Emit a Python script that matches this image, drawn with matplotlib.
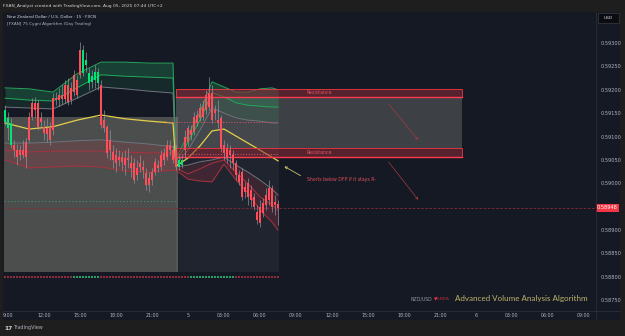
import numpy as np
import matplotlib
matplotlib.use("Agg")
import matplotlib.pyplot as plt
from matplotlib.patches import Rectangle
from matplotlib.lines import Line2D
import matplotlib.transforms as mtransforms

# ---------------- data ----------------
# 15-minute bars, hours counted from Aug 4 00:00 (UTC+2); first bar 08:45
bar_hours = 8.75 + 0.25 * np.arange(92)

opens = [0.59131, 0.59140, 0.59129, 0.59082, 0.59071, 0.59061, 0.59071, 0.59088, 0.59093, 0.59142,
         0.59172, 0.59172, 0.59131, 0.59121, 0.59118, 0.59121, 0.59114, 0.59182, 0.59178, 0.59189,
         0.59180, 0.59210, 0.59178, 0.59195, 0.59221, 0.59232, 0.59236, 0.59264, 0.59236, 0.59229,
         0.59238, 0.59214, 0.59210, 0.59135, 0.59121, 0.59093, 0.59067, 0.59061, 0.59050, 0.59056,
         0.59054, 0.59050, 0.59043, 0.59043, 0.59018, 0.59043, 0.59035, 0.59022, 0.59011, 0.59007,
         0.59024, 0.59039, 0.59035, 0.59050, 0.59056, 0.59082, 0.59071, 0.59071, 0.59035, 0.59050,
         0.59071, 0.59088, 0.59103, 0.59110, 0.59129, 0.59140, 0.59142, 0.59157, 0.59163, 0.59193,
         0.59157, 0.59135, 0.59140, 0.59082, 0.59076, 0.59071, 0.59061, 0.59043, 0.59018, 0.59024,
         0.58992, 0.59001, 0.58986, 0.58971, 0.58939, 0.58949, 0.58958, 0.58975, 0.58990, 0.58990,
         0.58960, 0.58956]
closes = [0.59157, 0.59118, 0.59082, 0.59071, 0.59056, 0.59071, 0.59061, 0.59056, 0.59142, 0.59172,
          0.59157, 0.59121, 0.59140, 0.59108, 0.59105, 0.59093, 0.59182, 0.59178, 0.59189, 0.59180,
          0.59210, 0.59174, 0.59204, 0.59232, 0.59189, 0.59285, 0.59285, 0.59253, 0.59214, 0.59217,
          0.59221, 0.59238, 0.59125, 0.59118, 0.59065, 0.59071, 0.59050, 0.59043, 0.59056, 0.59046,
          0.59039, 0.59054, 0.59033, 0.59007, 0.59033, 0.59035, 0.59028, 0.58996, 0.58996, 0.59024,
          0.59046, 0.59033, 0.59061, 0.59065, 0.59082, 0.59071, 0.59050, 0.59035, 0.59050, 0.59039,
          0.59099, 0.59118, 0.59114, 0.59142, 0.59146, 0.59161, 0.59163, 0.59189, 0.59193, 0.59135,
          0.59150, 0.59129, 0.59076, 0.59065, 0.59056, 0.59061, 0.59043, 0.59018, 0.59003, 0.58971,
          0.58981, 0.58971, 0.58964, 0.58949, 0.58922, 0.58915, 0.58937, 0.58954, 0.58964, 0.58949,
          0.58954, 0.58948]
highs = [0.59167, 0.59152, 0.59140, 0.59093, 0.59084, 0.59082, 0.59093, 0.59097, 0.59152, 0.59182,
         0.59185, 0.59178, 0.59152, 0.59135, 0.59140, 0.59131, 0.59193, 0.59195, 0.59204, 0.59210,
         0.59221, 0.59225, 0.59217, 0.59242, 0.59232, 0.59302, 0.59296, 0.59281, 0.59247, 0.59242,
         0.59253, 0.59247, 0.59221, 0.59157, 0.59125, 0.59114, 0.59082, 0.59076, 0.59071, 0.59067,
         0.59071, 0.59076, 0.59061, 0.59054, 0.59050, 0.59061, 0.59050, 0.59033, 0.59024, 0.59033,
         0.59054, 0.59050, 0.59071, 0.59076, 0.59093, 0.59093, 0.59082, 0.59082, 0.59061, 0.59061,
         0.59114, 0.59125, 0.59125, 0.59152, 0.59157, 0.59172, 0.59178, 0.59200, 0.59227, 0.59210,
         0.59167, 0.59178, 0.59146, 0.59093, 0.59086, 0.59082, 0.59071, 0.59050, 0.59028, 0.59033,
         0.59003, 0.59011, 0.58996, 0.58979, 0.58954, 0.58964, 0.58969, 0.58990, 0.59007, 0.58996,
         0.58975, 0.58964]
lows = [0.59125, 0.59093, 0.59076, 0.59056, 0.59039, 0.59050, 0.59054, 0.59033, 0.59088, 0.59135,
        0.59140, 0.59114, 0.59118, 0.59093, 0.59088, 0.59082, 0.59103, 0.59167, 0.59165, 0.59170,
        0.59172, 0.59167, 0.59170, 0.59187, 0.59182, 0.59225, 0.59229, 0.59238, 0.59200, 0.59204,
        0.59204, 0.59200, 0.59118, 0.59110, 0.59054, 0.59050, 0.59033, 0.59024, 0.59037, 0.59028,
        0.59018, 0.59033, 0.59014, 0.59001, 0.59007, 0.59024, 0.59011, 0.58986, 0.58981, 0.58996,
        0.59018, 0.59024, 0.59028, 0.59039, 0.59050, 0.59061, 0.59043, 0.59028, 0.59028, 0.59033,
        0.59050, 0.59080, 0.59093, 0.59103, 0.59123, 0.59133, 0.59135, 0.59148, 0.59157, 0.59129,
        0.59135, 0.59118, 0.59067, 0.59050, 0.59043, 0.59033, 0.59028, 0.59007, 0.58996, 0.58964,
        0.58969, 0.58954, 0.58949, 0.58943, 0.58913, 0.58907, 0.58928, 0.58943, 0.58954, 0.58939,
        0.58932, 0.58911]
# algorithm colouring of each candle: 1 = green, 0 = red
candle_green = [1, 1, 1, 0, 0, 0, 0, 0, 0, 0, 0, 0, 0, 0, 0, 0, 0, 0, 0, 0,
                0, 0, 0, 0, 0, 0, 1, 1, 1, 1, 1, 1, 0, 0, 0, 0, 0, 0, 0, 0,
                0, 0, 0, 0, 0, 0, 0, 0, 0, 0, 0, 0, 0, 0, 0, 0, 0, 0, 1, 1,
                0, 0, 0, 0, 0, 0, 0, 0, 0, 0, 0, 0, 0, 0, 0, 0, 0, 0, 0, 0,
                0, 0, 0, 0, 0, 0, 0, 0, 0, 0, 0, 0]
# volume strip direction per bar: 1 = buying, 0 = selling
volume_up = [0, 0, 0, 0, 0, 0, 0, 0, 0, 0, 0, 0, 0, 0, 0, 0, 0, 0, 0, 0,
             0, 0, 0, 1, 1, 1, 1, 1, 1, 1, 1, 1, 0, 0, 0, 0, 0, 0, 0, 0,
             0, 0, 0, 0, 0, 0, 0, 0, 0, 0, 0, 0, 0, 0, 0, 0, 0, 0, 0, 0,
             0, 0, 1, 1, 1, 1, 1, 1, 1, 1, 1, 1, 1, 1, 1, 1, 1, 0, 0, 0,
             0, 0, 0, 0, 0, 0, 0, 0, 0, 0, 0, 0]

# indicator bands (session anchored)
band_hours = [8.75, 10.75, 12.75, 14.75, 16.75, 18.75, 20.75, 22.75,
              23.0, 24.0, 25.0, 26.0, 27.0, 28.0, 29.0, 30.0, 31.0, 31.5]
vwap_mid = [0.59129, 0.59116, 0.59121, 0.59135, 0.59146, 0.59138, 0.59133, 0.59129,
            0.59037, 0.59054, 0.59080, 0.59112, 0.59116, 0.59101, 0.59086, 0.59071, 0.59056, 0.59048]
upper_2 = [0.59204, 0.59202, 0.59195, 0.59234, 0.59259, 0.59259, 0.59257, 0.59257,
           0.59054, 0.59103, 0.59152, 0.59217, 0.59206, 0.59195, 0.59195, 0.59202, 0.59204, 0.59200]
upper_1 = [0.59182, 0.59178, 0.59176, 0.59204, 0.59232, 0.59229, 0.59227, 0.59225,
           0.59046, 0.59088, 0.59135, 0.59193, 0.59185, 0.59172, 0.59167, 0.59165, 0.59163, 0.59163]
upper_0 = [0.59163, 0.59161, 0.59159, 0.59182, 0.59206, 0.59202, 0.59197, 0.59193,
           0.59041, 0.59071, 0.59114, 0.59161, 0.59150, 0.59140, 0.59135, 0.59133, 0.59129, 0.59129]
lower_0 = [0.59086, 0.59086, 0.59088, 0.59091, 0.59093, 0.59088, 0.59084, 0.59078,
           0.59035, 0.59039, 0.59046, 0.59050, 0.59056, 0.59039, 0.59024, 0.59007, 0.58988, 0.58975]
lower_1 = [0.59071, 0.59067, 0.59069, 0.59069, 0.59069, 0.59067, 0.59065, 0.59065,
           0.59033, 0.59020, 0.59031, 0.59043, 0.59050, 0.59024, 0.58999, 0.58971, 0.58954, 0.58943]
lower_2 = [0.59050, 0.59033, 0.59035, 0.59037, 0.59035, 0.59026, 0.59024, 0.59028,
           0.59028, 0.59009, 0.59005, 0.59003, 0.59041, 0.59007, 0.58979, 0.58943, 0.58917, 0.58900]

# zones
session1_box = (8.667, 23.17, 0.58810, 0.59142)
session2_box = (23.0, 31.55, 0.58810, 0.59202)
zone_hours = (23.0, 46.83)
resistance_top = (0.59185, 0.59202)
resistance_bottom = (0.59056, 0.59076)
resistance_label_hour = 34.92
dotted_upper_level = 0.59131
dotted_lower_level = 0.59063
dotted_green_level = 0.58962
last_price = 0.58948

price_ticks = [0.58750, 0.58800, 0.58850, 0.58900, 0.58950, 0.59000,
               0.59050, 0.59100, 0.59150, 0.59200, 0.59250, 0.59300]
time_tick_hours = [9, 12, 15, 18, 21, 24, 27, 30, 33, 36, 39, 42, 45, 48, 51, 54, 57]
time_tick_labels = ["9:00", "12:00", "15:00", "18:00", "21:00", "5", "03:00", "06:00", "09:00",
                    "12:00", "15:00", "18:00", "21:00", "6", "03:00", "06:00", "09:00"]

# ---------------- figure ----------------
W, H = 625, 336
OUTER = '#1e1e1e'
BG = '#151924'
TXT = '#b2b5be'


def fx(px):
    return px / W


def fy(py):
    return 1 - py / H


fig = plt.figure(figsize=(W / 100, H / 100), dpi=100)
fig.patch.set_facecolor(OUTER)
fig.add_artist(Rectangle((fx(3), fy(320)), fx(620) - fx(3), fy(12) - fy(320),
                         transform=fig.transFigure, facecolor=BG, edgecolor='none', zorder=0))

ax = fig.add_axes([fx(4), fy(310), fx(596) - fx(4), fy(13) - fy(310)])
ax.set_facecolor(BG)
ax.set_xlim(8.667, 58.0)
ax.set_ylim(0.587292, 0.593641)
for s in ax.spines.values():
    s.set_visible(False)

# session boxes
x0, x1, y0, y1 = session1_box
ax.add_patch(Rectangle((x0, y0), x1 - x0, y1 - y0, facecolor='#7a7a70', alpha=0.55,
                       edgecolor='none', zorder=1))
x0, x1, y0, y1 = session2_box
ax.add_patch(Rectangle((x0, y0), x1 - x0, y1 - y0, facecolor='#ffffff', alpha=0.05,
                       edgecolor='none', zorder=1))
# zone between the two resistances
ax.add_patch(Rectangle((zone_hours[0], resistance_bottom[1]), zone_hours[1] - zone_hours[0],
                       resistance_top[0] - resistance_bottom[1], facecolor='#8a8a80',
                       alpha=0.35, edgecolor='none', zorder=1))

# band fills per session
bh = np.array(band_hours)
u2, u1, u0 = np.array(upper_2), np.array(upper_1), np.array(upper_0)
l0, l1, l2 = np.array(lower_0), np.array(lower_1), np.array(lower_2)
for sel in (bh < 22.9, bh >= 22.9):
    ax.fill_between(bh[sel], u2[sel], u1[sel], color='#1f8a55', alpha=0.35, lw=0, zorder=2)
    ax.fill_between(bh[sel], u1[sel], u0[sel], color='#1f8a55', alpha=0.15, lw=0, zorder=2)
    ax.fill_between(bh[sel], l0[sel], l1[sel], color='#b0303f', alpha=0.18, lw=0, zorder=2)
    ax.fill_between(bh[sel], l1[sel], l2[sel], color='#b0303f', alpha=0.22, lw=0, zorder=2)

ax.plot(bh, u2, color='#26a65b', lw=0.7, zorder=3)
ax.plot(bh, u1, color='#26a65b', lw=0.7, zorder=3)
ax.plot(bh, u0, color='#6f727c', lw=0.7, zorder=3)
ax.plot(bh, l0, color='#6f727c', lw=0.7, zorder=3)
ax.plot(bh, l1, color='#a8323f', lw=0.7, zorder=3)
ax.plot(bh, l2, color='#a8323f', lw=0.7, zorder=3)
ax.plot(bh, vwap_mid, color='#e3cf4a', lw=0.9, zorder=3)

# resistance boxes
for lo, hi in (resistance_top, resistance_bottom):
    ax.add_patch(Rectangle((zone_hours[0], lo), zone_hours[1] - zone_hours[0], hi - lo,
                           facecolor='#8c2a38', alpha=0.55, edgecolor='none', zorder=3))
    ax.add_patch(Rectangle((zone_hours[0], lo), zone_hours[1] - zone_hours[0], hi - lo,
                           facecolor='none', edgecolor='#f23645', lw=0.6, zorder=4))
    ax.plot(zone_hours, [lo, lo], color='#ff3b4e', lw=1.0, zorder=4)
    ax.text(resistance_label_hour, (lo + hi) / 2, "Resistance", color='#e8505e',
            fontsize=3.4, ha='center', va='center', zorder=6)

# dotted levels
ax.plot([22.25, 31.5], [dotted_upper_level] * 2, color='#c85566', lw=0.8,
        ls=(0, (1, 1.5)), zorder=4)
ax.plot([23.0, 31.5], [dotted_lower_level] * 2, color='#c85566', lw=0.8,
        ls=(0, (1, 1.5)), zorder=4)
ax.plot([8.7, 22.9], [dotted_green_level] * 2, color='#3aa66a', lw=0.7,
        ls=(0, (1, 2.5)), zorder=4)
ax.plot([8.667, 58.0], [last_price] * 2, color='#8a2a36', lw=0.6, ls=(0, (3, 2)), zorder=4)

# candles
o = np.array(opens); c = np.array(closes)
hi_ = np.array(highs); lo_ = np.array(lows)
cols = ['#00e676' if g else '#ff4d5a' for g in candle_green]
ax.vlines(bar_hours, lo_, hi_, color='#9a9ca4', lw=0.55, alpha=0.8, zorder=5)
body_lo = np.minimum(o, c)
body_h = np.maximum(np.abs(c - o), 0.00003)
ax.bar(bar_hours, body_h, bottom=body_lo, width=0.17, color=cols, lw=0, zorder=6)

# volume strip
blend = mtransforms.blended_transform_factory(ax.transData, ax.transAxes)
vcols = ['#26a069' if v else '#8f2d3b' for v in volume_up]
ax.bar(bar_hours, 0.0068, bottom=0.108, width=0.17, color=vcols, lw=0,
       transform=blend, zorder=6)

# annotations
ax.annotate('', xy=(31.83, 0.59039), xytext=(33.58, 0.590135),
            arrowprops=dict(arrowstyle='->', color='#c9bf74', lw=0.6, mutation_scale=4),
            zorder=7)
ax.text(33.92, 0.59009, "Shorts below DFP if it stays R-", color='#e0505c', fontsize=3.3,
        ha='left', va='center', zorder=7)
ax.annotate('', xy=(43.33, 0.59088), xytext=(40.58, 0.59174),
            arrowprops=dict(arrowstyle='->', color='#a33a45', lw=0.5, mutation_scale=4),
            zorder=7)
ax.annotate('', xy=(43.33, 0.58960), xytext=(40.58, 0.59050),
            arrowprops=dict(arrowstyle='->', color='#a33a45', lw=0.5, mutation_scale=4),
            zorder=7)

# axes ticks (the 0.58950 label sits under the last-price tag, so it is left blank)
ax.yaxis.tick_right()
ax.set_yticks(price_ticks)
ax.set_yticklabels(["" if abs(p - last_price) < 0.0001 else f"{p:.5f}" for p in price_ticks])
ax.tick_params(axis='y', length=0, pad=3.0, labelsize=3.6, labelcolor=TXT)
ax.set_xticks(time_tick_hours)
ax.set_xticklabels(time_tick_labels)
ax.tick_params(axis='x', length=0, pad=2.4, labelsize=3.4, labelcolor=TXT)

# last price tag on the price scale
yblend = mtransforms.blended_transform_factory(ax.transAxes, ax.transData)
ax.add_patch(Rectangle((1.0, last_price - 0.0000855), 23 / 592, 0.000171, transform=yblend,
                       facecolor='#f23645', edgecolor='none', clip_on=False, zorder=10))
ax.text(1.0 + 11.5 / 592, last_price, f"{last_price:.5f}", transform=yblend, color='white',
        fontsize=3.6, ha='center', va='center', clip_on=False, zorder=11)

# separators
fig.add_artist(Line2D([fx(596), fx(596)], [fy(12), fy(320)], transform=fig.transFigure,
                      color='#2a2e39', lw=0.6))
fig.add_artist(Line2D([fx(3), fx(620)], [fy(310.5), fy(310.5)], transform=fig.transFigure,
                      color='#2a2e39', lw=0.6))

# USD box
fig.add_artist(Rectangle((fx(598), fy(22.5)), fx(618.5) - fx(598), fy(13.3) - fy(22.5),
                         transform=fig.transFigure, facecolor='#0b0c10', edgecolor='#434651',
                         lw=0.4))
fig.text(fx(608.2), fy(18), "USD", color='#d1d4dc', fontsize=3.2, ha='center', va='center')

# header and titles
fig.text(fx(3), fy(6), "FXAN_Analyst created with TradingView.com, Aug 05, 2025 07:44 UTC+2",
         color='#d1d4dc', fontsize=3.15, ha='left', va='center')
fig.text(fx(7), fy(16.5), "New Zealand Dollar / U.S. Dollar · 15 · FXCN",
         color='#d1d4dc', fontsize=3.0, ha='left', va='center')
fig.text(fx(7), fy(23.5), "[FXAN] 75 Cygni Algorithm (Day Trading)",
         color='#b2b5be', fontsize=3.0, ha='left', va='center')

# watermark
fig.text(fx(588), fy(299), "Advanced Volume Analysis Algorithm", color='#bdb36a',
         fontsize=5.8, family='Lato', ha='right', va='center')
fig.text(fx(450), fy(299), "▼0.01%", color='#f23645', fontsize=3.0, ha='right', va='center')
fig.text(fx(432), fy(299), "NZD/USD", color='#9598a1', fontsize=3.3, ha='right', va='center')

# footer
fig.text(fx(4), fy(328), "17", color='#d1d4dc', fontsize=4.2, weight='bold', ha='left',
         va='center')
fig.text(fx(13), fy(328), "TradingView", color='#b2b5be', fontsize=3.5, ha='left', va='center')

fig.savefig("out.png", dpi=100, facecolor=OUTER)
